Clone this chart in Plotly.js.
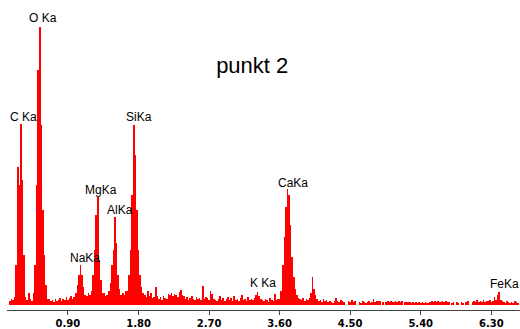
<!DOCTYPE html>
<html>
<head>
<meta charset="utf-8">
<script src="https://cdn.plot.ly/plotly-3.0.1.min.js"></script>
<style>html,body{margin:0;padding:0;background:#fff;}#chart{width:520px;height:329px;}</style>
</head>
<body>
<div id="chart"></div>
<script>
// EDS spectrum "punkt 2": counts per 0.02 keV channel, first channel at 0.16 keV
const channelStart = 0.16;
const channelWidth = 0.02;
const counts = [
  4, 6, 5, 8, 40, 138, 120, 181, 125, 50,
  8, 5, 12, 6, 4, 12, 40, 120, 235, 278,
  180, 95, 50, 20, 6, 6, 4, 5, 3, 6,
  4, 5, 7, 4, 6, 5, 8, 5, 7, 9,
  6, 8, 12, 20, 30, 40, 30, 18, 10, 9,
  12, 10, 14, 30, 55, 90, 108, 45, 25, 12,
  12, 9, 10, 14, 22, 40, 55, 88, 62, 30,
  16, 10, 12, 10, 14, 14, 30, 55, 110, 180,
  150, 95, 55, 30, 18, 12, 10, 8, 14, 9,
  12, 7, 8, 18, 9, 6, 8, 5, 9, 7,
  6, 11, 10, 12, 9, 11, 10, 8, 13, 15,
  10, 9, 6, 8, 5, 7, 9, 6, 5, 8,
  6, 7, 5, 19, 6, 8, 7, 5, 14, 11,
  6, 5, 4, 6, 9, 5, 7, 4, 6, 8,
  5, 7, 4, 9, 5, 6, 4, 7, 10, 5,
  6, 4, 8, 5, 6, 5, 7, 10, 13, 9,
  6, 5, 4, 6, 5, 3, 7, 5, 4, 11,
  5, 6, 6, 14, 40, 68, 98, 116, 110, 80,
  48, 28, 16, 10, 7, 6, 5, 7, 4, 6,
  5, 7, 12, 28, 16, 10, 6, 4, 5, 3,
  6, 4, 5, 3, 4, 3, 2, 4, 7, 4,
  3, 5, 4, 3, 0, 0, 4, 3, 5, 3,
  4, 0, 0, 3, 2, 4, 3, 2, 3, 4,
  2, 3, 6, 3, 4, 4, 4, 0, 3, 0,
  3, 4, 3, 4, 3, 3, 4, 3, 4, 3,
  4, 0, 3, 3, 3, 3, 2, 3, 2, 3,
  2, 3, 2, 3, 2, 3, 2, 2, 3, 4,
  3, 4, 3, 4, 3, 3, 4, 3, 4, 3,
  3, 0, 2, 3, 0, 3, 2, 0, 3, 2,
  0, 3, 4, 0, 0, 3, 4, 3, 5, 3,
  4, 3, 5, 3, 4, 4, 5, 3, 4, 8,
  5, 10, 13, 5, 4, 3, 2, 4, 3, 2,
  3, 2, 4, 3, 2
];

// Peak labels (text and where the label sits, keV / counts)
const peakLabels = ["C Ka", "O Ka", "NaKa", "MgKa", "AlKa", "SiKa", "K Ka", "CaKa", "FeKa"];
const labelEnergy = [0.339, 0.581, 1.117, 1.327, 1.563, 1.805, 3.385, 3.768, 6.470];
const labelHeight = [188, 287, 47, 115, 95, 188, 22, 122, 21];

const tickValues = [0.9, 1.8, 2.7, 3.6, 4.5, 5.4, 6.3];
const tickLabels = ["0.90", "1.80", "2.70", "3.60", "4.50", "5.40", "6.30"];

const trace = {
  type: 'bar',
  x0: channelStart,
  dx: channelWidth,
  y: counts,
  marker: {color: '#ff0000', line: {width: 0}},
  hoverinfo: 'skip'
};

const annotations = peakLabels.map((t, i) => ({
  text: t, x: labelEnergy[i], y: labelHeight[i], xref: 'x', yref: 'y',
  showarrow: false, xanchor: 'center', yanchor: 'middle',
  font: {family: 'Liberation Sans, Arial, sans-serif', size: 12, color: '#000'}
}));

const layout = {
  width: 520, height: 329,
  margin: {l: 7, r: 0, t: 5, b: 19},
  paper_bgcolor: '#fff', plot_bgcolor: '#fff',
  showlegend: false,
  bargap: 0,
  title: {
    text: 'punkt 2', x: 0.478, y: 0.802, xanchor: 'center', yanchor: 'middle',
    xref: 'paper', yref: 'container',
    font: {family: 'Liberation Sans, Arial, sans-serif', size: 22, color: '#000'}
  },
  xaxis: {
    range: [0.1224, 6.666],
    tickmode: 'array', tickvals: tickValues, ticktext: tickLabels,
    ticks: 'outside', ticklen: 4, tickcolor: '#444', tickwidth: 1,
    showline: true, linecolor: '#444', linewidth: 1,
    showgrid: false, zeroline: false,
    tickfont: {family: 'DejaVu Sans, sans-serif', size: 10, color: '#000', weight: 'bold'}
  },
  yaxis: {range: [-5, 300], visible: false, fixedrange: true},
  annotations: annotations
};

Plotly.newPlot('chart', [trace], layout, {displayModeBar: false, staticPlot: true});
</script>
</body>
</html>
